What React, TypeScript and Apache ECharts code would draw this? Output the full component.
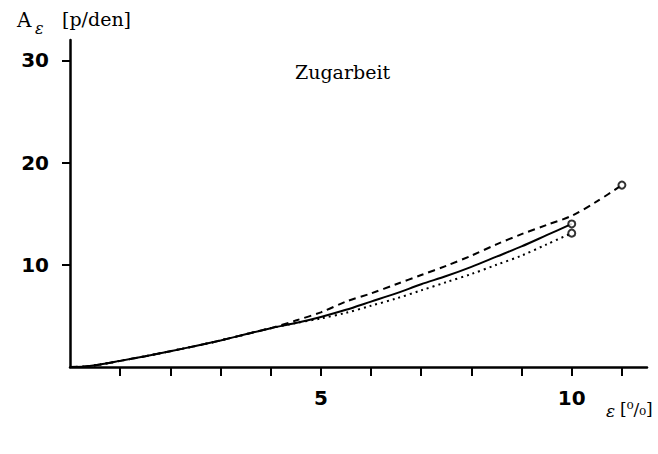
import React, { useEffect, useRef } from "react";
import * as echarts from "echarts";

// Strain ε [%] sample positions and work A_ε [p/den]
const strainSolid = [0, 0.3, 0.6, 1, 1.5, 2, 2.5, 3, 3.5, 4, 4.5, 5, 5.5, 6, 6.5, 7, 7.5, 8, 8.5, 9, 9.5, 10];
const workSolid = [0, 0.05, 0.25, 0.6, 1.05, 1.55, 2.05, 2.6, 3.2, 3.8, 4.3, 4.9, 5.6, 6.4, 7.2, 8.1, 8.9, 9.8, 10.8, 11.8, 12.9, 14.0];

const strainDashed = [0, 0.3, 0.6, 1, 1.5, 2, 2.5, 3, 3.5, 4, 4.5, 5, 5.5, 6, 6.5, 7, 7.5, 8, 8.5, 9, 9.5, 10, 10.5, 11];
const workDashed = [0, 0.05, 0.25, 0.6, 1.05, 1.55, 2.05, 2.6, 3.2, 3.8, 4.55, 5.35, 6.4, 7.2, 8.1, 9.0, 9.9, 10.9, 12.0, 13.0, 13.9, 14.8, 16.2, 17.8];

const strainDotted = [0, 0.3, 0.6, 1, 1.5, 2, 2.5, 3, 3.5, 4, 4.5, 5, 5.5, 6, 6.5, 7, 7.5, 8, 8.5, 9, 9.5, 10];
const workDotted = [0, 0.05, 0.25, 0.6, 1.05, 1.55, 2.05, 2.6, 3.2, 3.8, 4.3, 4.75, 5.3, 6.0, 6.7, 7.5, 8.3, 9.1, 10.0, 10.9, 12.0, 13.1];

const xTicks = [1, 2, 3, 4, 5, 6, 7, 8, 9, 10, 11];
const xLabels = [5, 10];
const yTicks = [10, 20, 30];

const titleText = "Zugarbeit";
const yName = "[p/den]";
const xName = "[⁰/₀]";

function pairs(xs: number[], ys: number[]) {
  return xs.map((x, i) => [x, ys[i]]);
}
function lastPoint(xs: number[], ys: number[]) {
  return [xs[xs.length - 1], ys[ys.length - 1]];
}

export default function App() {
  const ref = useRef<HTMLDivElement>(null);
  useEffect(() => {
    if (!ref.current) return;
    const chart = echarts.init(ref.current, undefined, { renderer: "svg" });
    const axisFont = {
      color: "#000",
      fontFamily: "DejaVu Sans",
      fontWeight: "bold" as const,
      fontSize: 20,
    };
    const lineBase = { color: "#000", width: 2 };
    chart.setOption({
      animation: false,
      backgroundColor: "#fff",
      grid: { left: 70, right: 11, top: 40, bottom: 87, containLabel: false },
      xAxis: {
        type: "value",
        min: 0,
        max: 11.5,
        interval: 1,
        splitLine: { show: false },
        axisLine: { show: true, lineStyle: { color: "#000", width: 2.5 } },
        axisTick: {
          show: true,
          inside: false,
          length: 9,
          customValues: xTicks,
          lineStyle: { color: "#000", width: 2 },
        },
        axisLabel: { ...axisFont, margin: 21, customValues: xLabels },
      },
      yAxis: {
        type: "value",
        min: 0,
        max: 32,
        interval: 10,
        splitLine: { show: false },
        axisLine: { show: true, lineStyle: { color: "#000", width: 2.5 } },
        axisTick: {
          show: true,
          inside: false,
          length: 8,
          customValues: yTicks,
          lineStyle: { color: "#000", width: 2 },
        },
        axisLabel: { ...axisFont, margin: 21, customValues: yTicks },
      },
      graphic: [
        { type: "text", left: 17, top: 10, style: { text: "A", fontFamily: "DejaVu Serif", fontSize: 20, fill: "#000" } },
        { type: "text", left: 35, top: 20, style: { text: "ε", fontFamily: "DejaVu Serif", fontStyle: "italic", fontSize: 16, fill: "#000" } },
        { type: "text", left: 62, top: 9, style: { text: yName, fontFamily: "DejaVu Serif", fontSize: 19, fill: "#000" } },
        { type: "text", left: 295, top: 62, style: { text: titleText, fontFamily: "DejaVu Serif", fontSize: 19, fill: "#000" } },
        { type: "text", left: 606, top: 402, style: { text: "ε", fontFamily: "DejaVu Serif", fontStyle: "italic", fontSize: 17, fill: "#000" } },
        { type: "text", left: 620, top: 400, style: { text: xName, fontFamily: "DejaVu Serif", fontSize: 17, fill: "#000" } },
      ],
      series: [
        {
          type: "line",
          name: "solid",
          smooth: 0.3,
          showSymbol: false,
          data: pairs(strainSolid, workSolid),
          lineStyle: { ...lineBase, type: "solid" },
          z: 3,
        },
        {
          type: "line",
          name: "dashed",
          smooth: 0.3,
          showSymbol: false,
          data: pairs(strainDashed, workDashed),
          lineStyle: { ...lineBase, type: [7, 5] },
          z: 2,
        },
        {
          type: "line",
          name: "dotted",
          smooth: 0.3,
          showSymbol: false,
          data: pairs(strainDotted, workDotted),
          lineStyle: { ...lineBase, type: [2, 4] },
          z: 2,
        },
        {
          type: "scatter",
          name: "ends",
          symbol: "circle",
          symbolSize: 7,
          data: [
            lastPoint(strainSolid, workSolid),
            lastPoint(strainDashed, workDashed),
            lastPoint(strainDotted, workDotted),
          ],
          itemStyle: { color: "#fff", borderColor: "#000", borderWidth: 2 },
          z: 5,
        },
      ],
    });
    return () => chart.dispose();
  }, []);
  return (
    <div
      ref={ref}
      style={{ position: "fixed", left: 0, top: 0, width: 658, height: 454, background: "#fff" }}
    />
  );
}
